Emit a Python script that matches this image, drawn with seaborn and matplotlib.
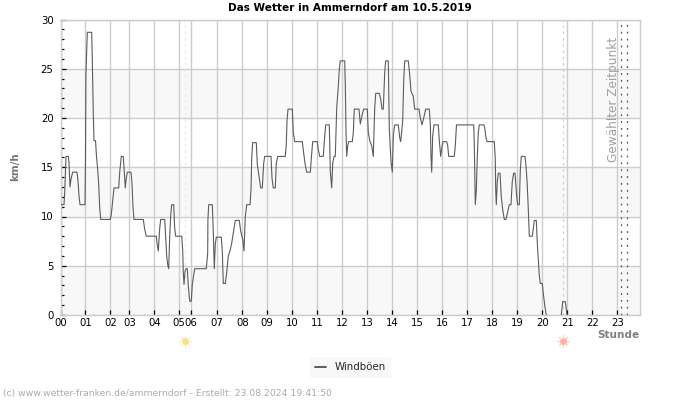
import numpy as np
import pandas as pd
import seaborn as sns
import matplotlib
matplotlib.use("Agg")
import matplotlib.pyplot as plt
from matplotlib.transforms import blended_transform_factory

# (sample position, gust km/h); the source's time axis is sample-based with recording gaps
gusts_00_03 = [(60.7,11.2),(64,11.2),(64.7,12.4),(66,16.1),(68.3,16.1),(69,15.5),(70,13),(71,13.8),(72.7,14.5),
 (77,14.5),(78,13.6),(79,12.1),(80,11.2),(85,11.2),(85.5,15.6),(85.9,24.3),(87.3,28.7),(91.7,28.7),(92.3,25.9),
 (93.3,20.4),(94,17.7),(95.5,17.7),(96.5,16.1),(97.5,15),(98.7,13.3),(99.7,10.9),(100.7,9.7),(110.3,9.7),
 (111.3,10.2),(112.7,11.6),(114,12.9),(118.7,12.9),(119.7,14.5),(121.3,16.1),(123.3,16.1),(124.3,14.5),
 (125.3,12.9),(126.3,13.9),(127.3,14.5),(131,14.5)]
gusts_03_06 = [(132,13.4),(133,10.9),(134,9.7),(143.3,9.7),(144.7,8.7),(146.3,8),(156.3,8),(157.3,7.1),(158.3,6.5),
 (159.7,8.8),(160.7,9.7),(164.7,9.7),(165.7,7.8),(166.7,6),(167.7,5.1),(168.7,4.7),(169.7,7.9),(170.7,10.1),
 (171.7,11.2),(173.7,11.2),(174.7,8.8),(175.7,8),(181.7,8),(182.7,6.6),(183.3,4.3),(184,3.1),(185,4.4),(186,4.7),
 (187.3,4.7),(188.3,2.9),(189.7,1.4),(191.3,1.4),(192.3,3.1),(193.7,4.1),(194.7,4.7)]
gusts_06_09 = [(206.3,4.7),(207.7,6.3),(207.9,9.6),(208.7,11.2),(212.3,11.2),(213.3,8.4),(214.3,4.7),(215.3,7.2),
 (216.3,7.9),(221.3,7.9),(222.3,6.5),(223.3,3.2),(225.3,3.2),(226.7,4.3),(228.3,6),(230,6.5),(231.7,7.3),
 (233.3,8.3),(235.3,9.6),(239.3,9.6),(240.7,8.5),(242.7,7.7),(244,6.5),(245.3,10),(246.7,11.2),(250,11.2),
 (251,12.7),(251.7,15.9),(252.7,17.5),(256.3,17.5),(257.3,15.3),(259,14.1),(260.7,12.9),(262.3,12.9),
 (263.7,15.4),(264.7,16.1),(271,16.1)]
gusts_09_13 = [(272,13.9),(273.3,12.9),(275.3,12.9),(276.3,15.4),(277.7,16.1),(285.3,16.1),(286.3,17.4),(287,19.7),
 (288,20.9),(292.3,20.9),(293.3,18.5),(294.7,17.6),(302.3,17.6),(303.7,16.4),(305,15.4),(306.7,14.5),(310.3,14.5),
 (311.3,15.9),(312.7,17.6),(317.3,17.6),(318.3,16.8),(319.7,16.1),(323.3,16.1),(324.3,17.6),(325.7,19.3),
 (329.3,19.3),(330.3,14.6),(331.7,12.9),(332.7,15.4),(334,16.1),(335.3,16.1),(336.7,21),(338.3,23.2),(339.3,24.9),
 (340.3,25.8),(344.7,25.8),(345.3,23.4),(346,18.7),(346.7,16.1),(347.7,17.2),(348.7,17.6),(352.3,17.6),
 (353.3,18.5),(354.3,20.9),(359,20.9),(360.3,19.4),(362.3,20.4),(363.7,20.9),(367.3,20.9)]
gusts_13_17 = [(368.3,18.5),(370,17.6),(371.7,17.2),(373.3,16.1),(374.7,21),(375.7,22.5),(379.3,22.5),(380.7,21.9),
 (382,20.9),(383.3,20.9),(384.7,24.6),(385.7,25.8),(388.3,25.8),(389.3,18.9),(391,15.6),(392.3,14.5),(393.3,18.2),
 (394.7,19.3),(398.3,19.3),(399.7,18),(400.7,17.6),(402.7,19.7),(403.7,23.8),(404.7,25.8),(408.3,25.8),
 (409.7,24.4),(411,22.7),(413.3,22.2),(414.7,20.9),(419,20.9),(420.3,20),(422,19.3),(423.7,20),(425.7,20.9),
 (429.3,20.9),(430.3,19.4),(431,16.1),(431.7,14.5),(432.7,18.2),(434,19.3),(438.3,19.3),(439.3,17.7),(440.7,16.1),
 (442,17.1),(443,17.6),(446.7,17.6),(447.7,17.2),(448.7,16.1),(454.3,16.1),(455.3,17.2),(456.5,19.3)]
gusts_17_21 = [(473.7,19.3),(474.3,17.3),(475,13.3),(475.3,11.2),(476.3,12.6),(477.3,16.1),(478.3,18.5),(479.3,19.3),
 (484,19.3),(484.7,19),(486,18),(487,17.6),(494.3,17.6),(495.3,15.8),(495.7,12.7),(496.3,11.2),(497.3,13.6),
 (498.3,14.4),(500,14.4),(501.3,12),(502.7,10.7),(504.3,9.7),(506,9.7),(507.7,10.5),(509.3,11.2),(511,11.2),
 (512.3,13.6),(513.7,14.4),(515,14.4),(516.7,12),(517.7,11.2),(519.3,11.2),(520.3,14.7),(521.3,16.1),(525,16.1),
 (526,15.1),(527,13.7),(528,11.5),(529.3,8),(532.3,8),(534.3,9.6),(536.3,9.6),(537.3,7.3),(538.3,5.6),(539.3,4),
 (540.3,3.2),(542.3,3.2),(543.3,2.2),(544.7,1),(546.3,0)]
gusts_evening = [(561.3,0),(562.7,1.35),(565.3,1.35),(567,0)]

hour_positions = [61,85.4,110.3,129.3,154.4,179.3,191.3,216.6,242.3,267.3,292.3,317.3,342.3,367.3,392.3,417.3,
                  442.3,467.3,492.3,517.3,542.3,567.3,592.3,617.3]
hour_labels = ["00","01","02","03","04","05","06","07","08","09","10","11","12","13","14","15",
               "16","17","18","19","20","21","22","23"]
gust_ticks = [0,5,10,15,20,25,30]
shaded_bands = [(0,5),(10,15),(20,25)]
sunrise_pos, sunset_pos = 185.3, 563.3
selected_pos = [621.3,627.3]

title_text = "Das Wetter in Ammerndorf am 10.5.2019"
credit_text = "(c) www.wetter-franken.de/ammerndorf - Erstellt: 23.08.2024 19:41:50"

sns.set_theme(style="white", rc={"font.family":"DejaVu Sans"})
W,H = 700,400
fig = plt.figure(figsize=(7,4),dpi=100)
L,R,T,B = 60.5,640,19.5,315
ax = fig.add_axes([L/W,1-B/H,(R-L)/W,(B-T)/H])

for lo,hi in shaded_bands:
    ax.axhspan(lo,hi,color="#f8f8f8",lw=0,zorder=0)
ax.set_axisbelow(True)
ax.grid(True,color="#cccccc",lw=1.0,zorder=1)

line_c="#5c5c5c"
day = gusts_00_03+gusts_03_06+gusts_06_09+gusts_09_13+gusts_13_17+gusts_17_21
df1=pd.DataFrame(day,columns=["x","y"])
df2=pd.DataFrame(gusts_evening,columns=["x","y"])
sns.lineplot(data=df1,x="x",y="y",ax=ax,color=line_c,lw=0.8,estimator=None,sort=False,label="Windböen",zorder=4)
sns.lineplot(data=df2,x="x",y="y",ax=ax,color=line_c,lw=0.8,estimator=None,sort=False,zorder=4)
ax.set_xlim(L,R); ax.set_ylim(0,30)

ax.set_xticks(hour_positions,hour_labels,fontsize=7.3,color="black")
ax.set_yticks(gust_ticks,[str(v) for v in gust_ticks],fontsize=7.3,color="black")
ax.set_yticks([v for v in range(31) if v%5],minor=True)
ax.tick_params(axis="both",which="major",direction="in",length=3.6,width=0.9,color="black",
               left=True,bottom=True)
ax.tick_params(axis="x",which="major",pad=2.5)
ax.tick_params(axis="y",which="major",pad=5)
ax.tick_params(axis="y",which="minor",direction="in",length=1.8,width=0.9,color="black",left=True)
ax.set_xlabel(""); ax.set_ylabel("")
for s in ax.spines.values():
    s.set_color("#cccccc"); s.set_linewidth(1.0)

ax.axvline(sunrise_pos,color="#f2f2a0",lw=0.9,ls=(0,(2,3)),zorder=2)
ax.axvline(sunset_pos,color="#f5c88e",lw=0.9,ls=(0,(2,3)),zorder=2)
for p in selected_pos:
    ax.axvline(p,color="#555555",lw=0.9,ls=(0,(1.5,4)),zorder=3)

fig.text(614/W,1-99/H,"Gewählter Zeitpunkt",rotation=90,ha="center",va="center",fontsize=8.75,color="#a0a0a0")
fig.text(350/W,1-8/H,title_text,ha="center",va="center",fontsize=7.6,fontweight="bold",color="black")
fig.text(15.5/W,1-167/H,"km/h",rotation=90,ha="center",va="center",fontsize=7.4,fontweight="bold",color="#777777")
fig.text(639.5/W,1-334.5/H,"Stunde",ha="right",va="center",fontsize=7.6,fontweight="bold",color="#808080")
fig.text(3/W,1-393.5/H,credit_text,ha="left",va="center",fontsize=6.63,color="#aaaaaa")

trans = blended_transform_factory(ax.transData,fig.transFigure)
for px,c in ((sunrise_pos-0.7,"#fde08f"),(sunset_pos-0.7,"#ffb3a0")):
    ax.scatter([px],[1-341/H],s=24,marker="o",color=c,lw=0,transform=trans,clip_on=False,zorder=5)
    ax.scatter([px],[1-341/H],s=70,marker=(8,2,0),color=c,lw=0.6,alpha=0.7,transform=trans,clip_on=False,zorder=5)
ax.set_xlim(L,R); ax.set_ylim(0,30)

leg = ax.legend(loc="center",bbox_to_anchor=(350.5/W,1-367.5/H),bbox_transform=fig.transFigure,frameon=True,
                fontsize=7.4,facecolor="#f8f8f8",edgecolor="none",framealpha=1,fancybox=False,
                handlelength=1.05,handletextpad=0.85,borderpad=0.5,borderaxespad=0)
for h in leg.get_lines():
    h.set_linewidth(1.4)
fig.savefig("out.png",dpi=100)
